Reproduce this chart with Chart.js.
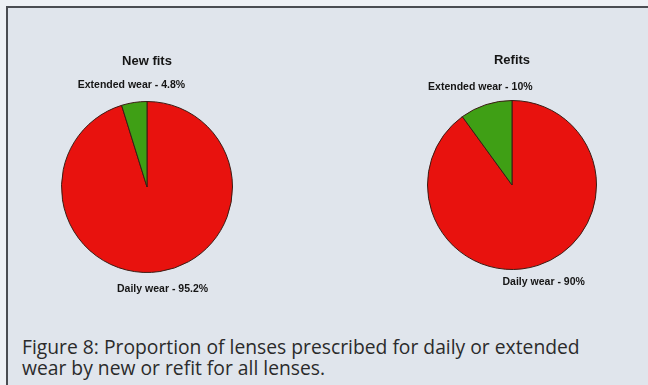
<!DOCTYPE html>
<html>
<head>
<meta charset="utf-8">
<script src="https://cdn.jsdelivr.net/npm/chart.js@4/dist/chart.umd.min.js"></script>
<style>
  html, body { margin:0; padding:0; overflow:hidden; }
  body { width:648px; height:385px; position:relative;
         background:linear-gradient(to right, #eef1f5 0px, #eef1f5 6px, transparent 6px),
                    linear-gradient(to bottom, #eef1f5 0px, #eef1f5 6px, #e0e5ec 6px); }
  .edge { position:absolute; background:#4a4d52; }
  canvas { position:absolute; }
  #caption { position:absolute; left:22px; top:336px; font-family:"Open Sans", sans-serif;
             font-size:19.3px; line-height:21px; color:#2b2b2b; white-space:nowrap; }
</style>
</head>
<body>
<div class="edge" style="left:6px; top:6px; width:642px; height:2px;"></div>
<div class="edge" style="left:6px; top:6px; width:2px; height:379px;"></div>
<canvas id="c1" width="240" height="280" style="left:27px; top:47px;"></canvas>
<canvas id="c2" width="240" height="280" style="left:392px; top:45px;"></canvas>
<div id="caption">Figure 8: Proportion of lenses prescribed for daily or extended<br>wear by new or refit for all lenses.</div>
<script>
const categories = ['Daily wear', 'Extended wear'];
const newFitsValues = [95.2, 4.8];
const refitsValues = [90, 10];
const newFitsLabels = ['Daily wear - 95.2%', 'Extended wear - 4.8%'];
const refitsLabels = ['Daily wear - 90%', 'Extended wear - 10%'];
const chartTitles = ['New fits', 'Refits'];
const sliceColors = ['#e8120e', '#3f9f15'];

const pieText = {
  id: 'pieText',
  afterDraw(chart, args, opts) {
    const ctx = chart.ctx;
    const arcs = chart.getDatasetMeta(0).data;
    if (!arcs.length) return;
    const a0 = arcs[0];
    ctx.save();
    ctx.fillStyle = '#151515';
    ctx.textAlign = 'center';
    ctx.textBaseline = 'middle';
    ctx.font = 'bold 13px "Liberation Sans", Arial, sans-serif';
    ctx.fillText(opts.title, a0.x, a0.y - a0.outerRadius - 40);
    ctx.font = 'bold 10.5px "Liberation Sans", Arial, sans-serif';
    arcs.forEach((arc, i) => {
      const mid = (arc.startAngle + arc.endAngle) / 2;
      const r = arc.outerRadius + 18;
      ctx.fillText(opts.labels[i], arc.x + Math.cos(mid) * r, arc.y + Math.sin(mid) * r);
    });
    ctx.restore();
  }
};

function makePie(id, values, labels, title, pad) {
  new Chart(document.getElementById(id), {
    type: 'pie',
    data: {
      labels: categories,
      datasets: [{ data: values, backgroundColor: sliceColors, borderColor: '#3b1c14', borderWidth: 1 }]
    },
    options: {
      responsive: false,
      animation: false,
      layout: { padding: pad },
      plugins: {
        legend: { display: false },
        tooltip: { enabled: false },
        pieText: { title: title, labels: labels }
      }
    },
    plugins: [pieText]
  });
}

makePie('c1', newFitsValues, newFitsLabels, chartTitles[0], { top: 54, bottom: 54, left: 34, right: 34 });
makePie('c2', refitsValues, refitsLabels, chartTitles[1], { top: 55, bottom: 55, left: 35, right: 35 });
</script>
</body>
</html>
